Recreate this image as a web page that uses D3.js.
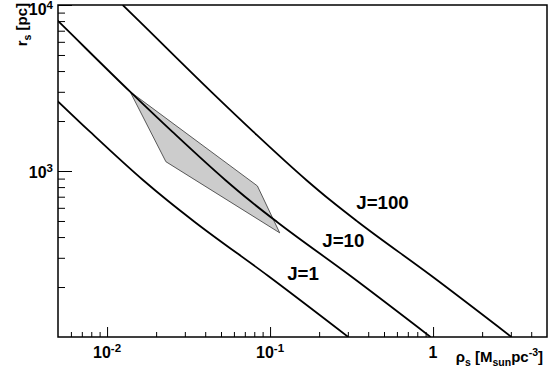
<!DOCTYPE html>
<html>
<head>
<meta charset="utf-8">
<script src="https://cdn.jsdelivr.net/npm/d3@7"></script>
<style>
  body { margin: 0; background: #fff; }
  text { font-family: "Liberation Sans", Arial, Helvetica, sans-serif; font-weight: bold; fill: #000; }
</style>
</head>
<body>
<svg id="canvas" width="548" height="381"></svg>
<script>
// J = 1 curve
let rhoJ1 = [0.00433, 0.00785, 0.0166, 0.0237, 0.0345, 0.0975, 0.302]
let rJ1 = [3006, 1726, 883, 659, 493, 233, 100]

// J = 10 curve
let rhoJ10 = [0.00397, 0.00507, 0.01384, 0.0251, 0.0531, 0.0757, 0.1104, 0.312, 0.966]
let rJ10 = [10000, 7907, 3006, 1726, 883, 659, 493, 233, 100]

// J = 100 curve
let rhoJ100 = [0.01247, 0.01592, 0.04346, 0.0788, 0.1667, 0.2377, 0.3467, 0.980, 3.03]
let rJ100 = [10000, 7907, 3006, 1726, 883, 659, 493, 233, 100]

// shaded region (corners)
let polyRho = [0.01384, 0.0836, 0.1146, 0.02295]
let polyR = [3008, 813, 424, 1138]

let curveNames = ["J=1", "J=10", "J=100"]
let labelRho = [0.1274, 0.209, 0.338]
let labelR = [220, 350, 588]

// ticks
let xMajor = [0.01, 0.1, 1]
let xMajorBase = ["10", "10", "1"]
let xMajorExp = ["-2", "-1", ""]
let xMinor = [0.006, 0.007, 0.008, 0.009, 0.02, 0.03, 0.04, 0.05, 0.06, 0.07, 0.08, 0.09,
              0.2, 0.3, 0.4, 0.5, 0.6, 0.7, 0.8, 0.9, 2, 3, 4]
let yMajor = [1000, 10000]
let yMajorBase = ["10", "10"]
let yMajorExp = ["3", "4"]
let yMinor = [200, 300, 400, 500, 600, 700, 800, 900, 2000, 3000, 4000, 5000, 6000, 7000, 8000, 9000]

let canvas = d3.select("#canvas")

let frameLeft = 58, frameRight = 547, frameTop = 5, frameBottom = 337

let xScale = d3.scaleLog().domain([0.005, 5]).range([frameLeft, frameRight])
let yScale = d3.scaleLog().domain([100, 10000]).range([frameBottom, frameTop])

canvas.append("rect").attr("width", 548).attr("height", 381).attr("fill", "#fff")

canvas.append("clipPath").attr("id", "clip")
    .append("rect")
    .attr("x", frameLeft).attr("y", frameTop)
    .attr("width", frameRight - frameLeft).attr("height", frameBottom - frameTop)

let plot = canvas.append("g").attr("clip-path", "url(#clip)")

// shaded polygon
let polyPoints = polyRho.map((d, i) => [xScale(d), yScale(polyR[i])])
plot.append("polygon")
    .attr("points", polyPoints.map(p => p.join(",")).join(" "))
    .attr("fill", "#cccccc")
    .attr("stroke", "#333")
    .attr("stroke-width", 0.8)

let line = d3.line()
    .x(d => xScale(d[0]))
    .y(d => yScale(d[1]))
    .curve(d3.curveMonotoneX)

let curves = [
    d3.zip(rhoJ1, rJ1),
    d3.zip(rhoJ10, rJ10),
    d3.zip(rhoJ100, rJ100)
]

plot.selectAll("path.jline")
    .data(curves)
    .enter()
    .append("path")
    .attr("class", "jline")
    .attr("d", d => line(d))
    .attr("fill", "none")
    .attr("stroke", "#000")
    .attr("stroke-width", 1.8)

// curve labels
canvas.selectAll("text.jlabel")
    .data(curveNames)
    .enter()
    .append("text")
    .attr("class", "jlabel")
    .attr("x", (d, i) => xScale(labelRho[i]))
    .attr("y", (d, i) => yScale(labelR[i]))
    .attr("font-size", "18.7px")
    .text(d => d)

// ticks
let tickStyle = (g) => {
    g.select(".domain").remove()
    g.selectAll("line").attr("stroke", "#000").attr("stroke-width", 1)
}

canvas.append("g")
    .attr("transform", "translate(0," + frameBottom + ")")
    .call(d3.axisBottom(xScale).tickValues(xMinor).tickSize(-5).tickFormat(""))
    .call(tickStyle)
canvas.append("g")
    .attr("transform", "translate(0," + frameBottom + ")")
    .call(d3.axisBottom(xScale).tickValues(xMajor).tickSize(-10).tickFormat(""))
    .call(tickStyle)
canvas.append("g")
    .attr("transform", "translate(" + frameLeft + ",0)")
    .call(d3.axisLeft(yScale).tickValues(yMinor).tickSize(-7).tickFormat(""))
    .call(tickStyle)
canvas.append("g")
    .attr("transform", "translate(" + frameLeft + ",0)")
    .call(d3.axisLeft(yScale).tickValues(yMajor).tickSize(-14).tickFormat(""))
    .call(tickStyle)

// frame
canvas.append("rect")
    .attr("x", frameLeft).attr("y", frameTop)
    .attr("width", frameRight - frameLeft).attr("height", frameBottom - frameTop)
    .attr("fill", "none")
    .attr("stroke", "#000")
    .attr("stroke-width", 1.5)

// x tick labels
let xLab = canvas.selectAll("text.xlab")
    .data(xMajor)
    .enter()
    .append("text")
    .attr("class", "xlab")
    .attr("x", d => xScale(d))
    .attr("y", 358)
    .attr("text-anchor", "middle")
    .attr("font-size", "16px")
xLab.append("tspan").text((d, i) => xMajorBase[i])
xLab.append("tspan")
    .attr("dy", -6)
    .attr("font-size", "11.5px")
    .text((d, i) => xMajorExp[i])

// y tick labels
let yLab = canvas.selectAll("text.ylab")
    .data(yMajor)
    .enter()
    .append("text")
    .attr("class", "ylab")
    .attr("x", 53)
    .attr("y", d => Math.max(yScale(d) + 7, 15))
    .attr("text-anchor", "end")
    .attr("font-size", "16px")
yLab.append("tspan").text((d, i) => yMajorBase[i])
yLab.append("tspan")
    .attr("dy", -6)
    .attr("font-size", "11.5px")
    .text((d, i) => yMajorExp[i])

// axis titles
let xTitle = canvas.append("text")
    .attr("x", 543)
    .attr("y", 362)
    .attr("text-anchor", "end")
    .attr("font-size", "15px")
xTitle.append("tspan").text("\u03c1")
xTitle.append("tspan").attr("dy", 4).attr("font-size", "10.5px").text("s")
xTitle.append("tspan").attr("dy", -4).text(" [M")
xTitle.append("tspan").attr("dy", 4).attr("font-size", "10.5px").text("sun")
xTitle.append("tspan").attr("dy", -4).text("pc")
xTitle.append("tspan").attr("dy", -6).attr("font-size", "10.5px").text("-3")
xTitle.append("tspan").attr("dy", 6).text("]")

let yTitle = canvas.append("text")
    .attr("transform", "translate(27,3) rotate(-90)")
    .attr("text-anchor", "end")
    .attr("font-size", "15px")
yTitle.append("tspan").text("r")
yTitle.append("tspan").attr("dy", 4).attr("font-size", "10.5px").text("s")
yTitle.append("tspan").attr("dy", -4).text(" [pc]")
</script>
</body>
</html>
